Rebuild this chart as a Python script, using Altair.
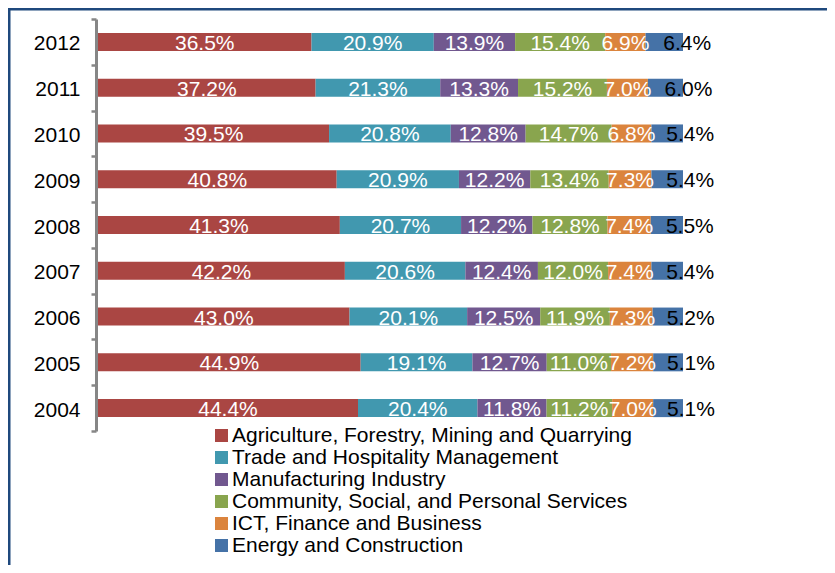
import altair as alt
import pandas as pd

years = ["2012", "2011", "2010", "2009", "2008", "2007", "2006", "2005", "2004"]
sectors = [
    "Agriculture, Forestry, Mining and Quarrying",
    "Trade and Hospitality Management",
    "Manufacturing Industry",
    "Community, Social, and Personal Services",
    "ICT, Finance and Business",
    "Energy and Construction",
]
colors = ["#AA4643", "#4198AF", "#71588F", "#89A54E", "#DB843D", "#4572A7"]

agri = [36.5, 37.2, 39.5, 40.8, 41.3, 42.2, 43.0, 44.9, 44.4]
trade = [20.9, 21.3, 20.8, 20.9, 20.7, 20.6, 20.1, 19.1, 20.4]
manuf = [13.9, 13.3, 12.8, 12.2, 12.2, 12.4, 12.5, 12.7, 11.8]
comm = [15.4, 15.2, 14.7, 13.4, 12.8, 12.0, 11.9, 11.0, 11.2]
ict = [6.9, 7.0, 6.8, 7.3, 7.4, 7.4, 7.3, 7.2, 7.0]
energy = [6.4, 6.0, 5.4, 5.4, 5.5, 5.4, 5.2, 5.1, 5.1]

series = [agri, trade, manuf, comm, ict, energy]
rows = []
for si, (name, vals) in enumerate(zip(sectors, series)):
    for y, v in zip(years, vals):
        rows.append({"year": y, "sector": name, "idx": si, "value": v,
                     "label": f"{v:.1f}%"})
df = pd.DataFrame(rows)

FONT = "Liberation Sans"

base = alt.Chart(df).transform_stack(
    stack="value", groupby=["year"], as_=["x0", "x1"],
    offset="normalize", sort=[alt.SortField("idx", order="ascending")]
).transform_calculate(mid="(datum.x0 + datum.x1) / 2")

xscale = alt.Scale(domain=[0, 1], range=[2, 587])
yscale = alt.Scale(domain=years, range=[11, 423], paddingInner=0, paddingOuter=0)

yaxis = alt.Axis(title=None, domainColor="#868686", domainWidth=3,
                 tickColor="#868686", tickWidth=2.5, tickSize=5,
                 tickBand="extent", labelFontSize=21, labelColor="black",
                 labelPadding=11, labelOffset=2, grid=False, labelFont=FONT)

bars = base.mark_bar(height=18).encode(
    x=alt.X("x0:Q", scale=xscale, axis=None),
    x2="x1:Q",
    y=alt.Y("year:N", scale=yscale, axis=yaxis, sort=years),
    color=alt.Color("sector:N", scale=alt.Scale(domain=sectors, range=colors),
                    legend=alt.Legend(title=None, orient="none", legendX=115, legendY=417,
                                      symbolType="square", symbolSize=169,
                                      symbolStrokeWidth=0, labelFontSize=21,
                                      labelColor="black", rowPadding=0, labelOffset=0,
                                      padding=0, labelLimit=0, labelFont=FONT)),
    order=alt.Order("idx:Q"),
)

labels_in = base.transform_filter(alt.datum.idx < 5).mark_text(
    color="white", fontSize=21, font=FONT, align="center", baseline="middle", dy=2
).encode(
    x=alt.X("mid:Q", scale=xscale, axis=None),
    y=alt.Y("year:N", scale=yscale, sort=years),
    text="label:N",
)

labels_out = base.transform_filter(alt.datum.idx == 5).mark_text(
    color="black", fontSize=21, font=FONT, align="left", baseline="middle", dy=2, dx=-1
).encode(
    x=alt.X("mid:Q", scale=xscale, axis=None),
    y=alt.Y("year:N", scale=yscale, sort=years),
    text="label:N",
)

frame_df = pd.DataFrame({"a": [0]})
frame_top = alt.Chart(frame_df).mark_rule(color="#1F497D", strokeWidth=3).encode(
    x=alt.value(-88), x2=alt.value(731), y=alt.value(1)
)
frame_left = alt.Chart(frame_df).mark_rule(color="#1F497D", strokeWidth=3).encode(
    x=alt.value(-87), y=alt.value(0), y2=alt.value(557)
)

chart = alt.layer(bars, labels_in, labels_out, frame_top, frame_left).properties(
    width=731, height=557,
    autosize=alt.AutoSizeParams(type="none"),
    padding={"left": 88, "top": 0, "right": 0, "bottom": 0},
).configure(font=FONT).configure_view(stroke=None)

chart.save("out.html", embed_options={"renderer": "svg", "actions": False})
